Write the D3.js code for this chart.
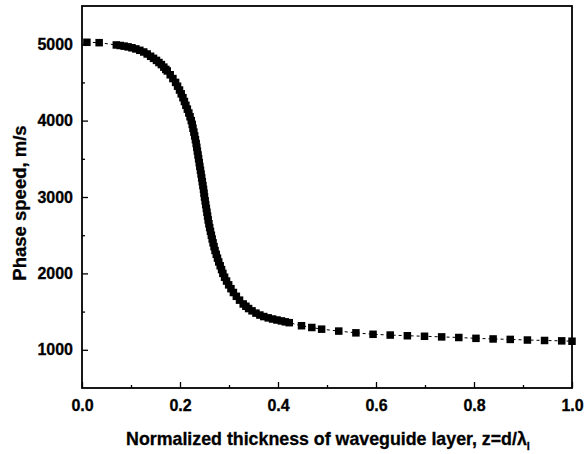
<!DOCTYPE html>
<html>
<head>
<meta charset="utf-8">
<script src="https://cdn.jsdelivr.net/npm/d3@7"></script>
<style>
  html, body { margin: 0; padding: 0; background: #fff; }
  svg { display: block; }
  text { font-family: "Liberation Sans", Arial, sans-serif; font-weight: bold; fill: #000; }
</style>
</head>
<body>
<svg id="chart" width="584" height="454"></svg>
<script>
// Normalized thickness z = d/λ_l
const thickness = [
  0.010, 0.035, 0.070, 0.078, 0.086, 0.094, 0.102, 0.110, 0.118, 0.126,
  0.133, 0.140, 0.146, 0.152, 0.157, 0.162, 0.167, 0.171, 0.174, 0.180,
  0.1855, 0.191, 0.195, 0.199, 0.2025, 0.206, 0.209, 0.212, 0.215, 0.218,
  0.2205, 0.223, 0.225, 0.2265, 0.2283, 0.230, 0.2315, 0.233, 0.2343, 0.2355,
  0.2368, 0.238, 0.2393, 0.2405, 0.2418, 0.243, 0.2443, 0.2455, 0.2468, 0.248,
  0.249, 0.250, 0.2513, 0.2525, 0.2538, 0.255, 0.2563, 0.2575, 0.259, 0.2605,
  0.2622, 0.264, 0.2657, 0.2675, 0.2695, 0.2715, 0.274, 0.2765, 0.279, 0.282,
  0.2848, 0.2875, 0.291, 0.295, 0.2993, 0.304, 0.309, 0.315, 0.3215, 0.329,
  0.3345, 0.340, 0.347, 0.355, 0.363, 0.371, 0.380, 0.389, 0.398, 0.407,
  0.415, 0.423, 0.448, 0.469, 0.489, 0.524, 0.559, 0.594, 0.629, 0.664,
  0.699, 0.734, 0.769, 0.804, 0.839, 0.874, 0.909, 0.944, 0.979, 1.000
];

// Phase speed, m/s
const phaseSpeed = [
  5025, 5020, 4990, 4983, 4975, 4965, 4953, 4938, 4920, 4898,
  4872, 4842, 4815, 4788, 4760, 4733, 4700, 4670, 4650, 4600,
  4550, 4500, 4450, 4400, 4350, 4300, 4250, 4200, 4150, 4100,
  4050, 4000, 3950, 3900, 3850, 3800, 3750, 3700, 3650, 3600,
  3550, 3500, 3450, 3400, 3350, 3300, 3250, 3200, 3150, 3100,
  3050, 3000, 2950, 2900, 2850, 2800, 2750, 2700, 2650, 2600,
  2550, 2500, 2450, 2400, 2350, 2300, 2250, 2200, 2150, 2100,
  2050, 2000, 1950, 1900, 1850, 1800, 1750, 1700, 1650, 1600,
  1570, 1540, 1510, 1480, 1455, 1435, 1418, 1403, 1390, 1378,
  1366, 1355, 1315, 1292, 1270, 1245, 1222, 1203, 1193, 1184,
  1177, 1169, 1161, 1150, 1142, 1136, 1128, 1122, 1117, 1112
];

const xMajorTicks = [0, 0.2, 0.4, 0.6, 0.8, 1.0];
const xMinorTicks = [0.1, 0.3, 0.5, 0.7, 0.9];
const yMajorTicks = [1000, 2000, 3000, 4000, 5000];
const yMinorTicks = [1500, 2500, 3500, 4500];

const points = thickness.map((z, i) => ({ z, v: phaseSpeed[i] }));

const plotLeft = 82, plotRight = 572, plotTop = 6, plotBottom = 388;
const svg = d3.select("#chart");

const x = d3.scaleLinear().domain([0, 1]).range([plotLeft, plotRight]);
const y = d3.scaleLinear().domain([500, 5500]).range([plotBottom, plotTop]);

// Thin dashed connector through the points
const line = d3.line().x(d => x(d.z)).y(d => y(d.v));
svg.append("path")
  .datum(points)
  .attr("d", line)
  .attr("fill", "none")
  .attr("stroke", "#000")
  .attr("stroke-width", 1)
  .attr("stroke-dasharray", "3,3");

// Square markers
const size = 7.5;
svg.append("g").selectAll("rect")
  .data(points)
  .join("rect")
  .attr("x", d => x(d.z) - size / 2)
  .attr("y", d => y(d.v) - size / 2)
  .attr("width", size)
  .attr("height", size)
  .attr("fill", "#000");

// Axes with inward ticks
const fmtX = d3.format(".1f");
const xAxis = d3.axisBottom(x).tickValues(xMajorTicks).tickFormat(fmtX)
  .tickSizeInner(-6).tickSizeOuter(0).tickPadding(12);
const xAxisMinor = d3.axisBottom(x).tickValues(xMinorTicks).tickFormat("")
  .tickSizeInner(-3).tickSizeOuter(0);
const yAxis = d3.axisLeft(y).tickValues(yMajorTicks).tickFormat(d3.format("d"))
  .tickSizeInner(-6).tickSizeOuter(0).tickPadding(9);
const yAxisMinor = d3.axisLeft(y).tickValues(yMinorTicks).tickFormat("")
  .tickSizeInner(-3).tickSizeOuter(0);

function styleAxis(g) {
  g.select(".domain").remove();
  g.selectAll(".tick line").attr("stroke", "#000").attr("stroke-width", 1.3);
  g.selectAll(".tick text").style("font-size", "16px").style("font-weight", "bold")
    .style("font-family", "'Liberation Sans', Arial, sans-serif")
    .attr("stroke", "#000").attr("stroke-width", 0.3);
}

svg.append("g").attr("transform", `translate(0,${plotBottom})`).call(xAxis).call(styleAxis);
svg.append("g").attr("transform", `translate(0,${plotBottom})`).call(xAxisMinor).call(styleAxis);
svg.append("g").attr("transform", `translate(${plotLeft},0)`).call(yAxis).call(styleAxis);
svg.append("g").attr("transform", `translate(${plotLeft},0)`).call(yAxisMinor).call(styleAxis);

// Frame
svg.append("rect")
  .attr("x", plotLeft).attr("y", plotTop)
  .attr("width", plotRight - plotLeft).attr("height", plotBottom - plotTop)
  .attr("fill", "none").attr("stroke", "#000").attr("stroke-width", 1.8);

// Axis titles
const xTitle = svg.append("text")
  .attr("x", (plotLeft + plotRight) / 2 + 1)
  .attr("y", 445)
  .attr("text-anchor", "middle")
  .attr("stroke", "#000").attr("stroke-width", 0.3)
  .style("font-size", "17.8px");
xTitle.append("tspan").text("Normalized thickness of waveguide layer, z=d/λ");
xTitle.append("tspan").attr("dy", 5).style("font-size", "11px").text("l");

svg.append("text")
  .attr("transform", `translate(26,203) rotate(-90)`)
  .attr("text-anchor", "middle")
  .attr("stroke", "#000").attr("stroke-width", 0.3)
  .style("font-size", "18.5px")
  .text("Phase speed, m/s");
</script>
</body>
</html>
